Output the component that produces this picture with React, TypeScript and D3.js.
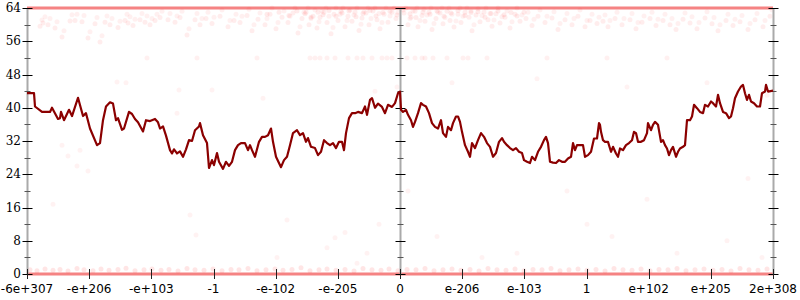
import React, { useEffect, useRef } from "react";
import * as d3 from "d3";

// x domain: bin index 0..746, y domain 0..64
const xTickLabels = ["-6e+307", "-e+206", "-e+103", "-1", "-e-102", "-e-205", "0", "e-206", "e-103", "1", "e+102", "e+205", "2e+308"];
const yTicks = [0, 8, 16, 24, 32, 40, 48, 56, 64];

const linePos = [0,7,8,15,23,25,31,33,34,37,42,45,51,56,59,63,70,73,76,79,83,86,89,91,95,97,102,105,108,111,116,119,123,128,131,133,136,139,143,145,147,150,153,156,159,162,165,168,172,173,176,180,182,185,187,190,192,196,199,202,205,208,211,214,218,221,223,225,228,232,235,238,241,244,246,249,254,257,260,263,266,270,273,276,279,281,284,288,291,294,297,300,303,306,309,312,315,317,319,322,325,328,331,335,338,340,343,345,348,351,355,358,361,365,368,371,373,
374,376,379,381,384,386,388,391,394,396,399,402,405,408,411,414,416,419,421,424,426,429,431,433,435,438,441,443,445,448,451,454,457,460,463,466,469,472,475,477,480,483,486,489,492,495,497,500,503,505,508,511,514,517,519,521,523,526,529,532,535,538,541,544,546,548,550,553,556,558,561,564,567,570,572,573,574,576,578,581,584,586,589,591,593,596,599,602,605,607,609,611,614,617,620,621,624,626,628,631,634,636,638,640,642,644,646,649,651,653,656,658,660,663,665,667,670,673,676,678,681,684,686,689,691,693,696,699,702,704,706,708,711,714,716,718,720,722,724,727,730,733,735,738,739,741,746];
const lineVal = [43.5,43.5,40.3,39,39,40,37.3,37.5,39,37,39.5,38,42.4,38,38.7,35,31,31.5,37,40.3,41.3,41,37,37.5,34.7,35,39,38.5,37.3,36.5,34.3,37,36.8,37.3,36.5,35,35.5,33.3,29.8,29,30,29,29.5,28.2,30,32.2,32,34.6,35.5,36.3,33.4,31.5,25.5,27.4,26.2,29.1,27,25.3,27,26,27,29.8,31,31.5,31.5,29.8,31,29.8,28.2,31.8,33,33,33.4,35,31.8,28.2,25.7,27.4,28.2,31,33.9,34.6,33.4,33.9,31.8,32.7,30.6,30.3,28.6,29.4,32.2,31.5,31,31.5,30.3,31.8,31.8,29.8,33.9,37.5,38.7,38.7,39,38.7,40.3,38.3,41.9,42.3,40,41,40.2,38.7,40.7,40.2,41.1,43.5,43.9,
39.5,39,39.5,38.3,37,35.4,36.6,38.7,41.1,40.7,40.3,38.7,36.3,35.4,35,37,33.9,33,35.4,34.6,36.3,37.9,37.9,36.6,34.2,31,29.4,28.2,31.5,30.3,32.2,33.9,33,31.5,30.6,28.2,29.1,31.8,32.7,31.8,31,30.3,29.8,30.3,29.4,29.1,27.4,27,26.7,28.2,27.4,29.4,30.6,32.2,33,31.5,27,26.8,26.7,27.4,27,27,27.8,28.2,31.5,29.8,31,31,31,28.2,28.6,29.4,32.6,32.6,36.3,35.9,34.2,32.2,31.8,31.8,29.4,30.6,29,28.2,30.2,29.8,31,31.5,32.2,34.2,33.9,31.8,31.8,32.2,33.9,36.3,34.6,35.9,36.6,35.9,31.8,32.2,31,30.2,28.6,29.8,30.6,28.2,29.4,30.2,30.6,31,37,37,37.9,40.7,39.9,39,38.7,40.7,40.3,41.5,41.1,40.3,43.1,41.1,39,38.7,37.5,37.9,39.9,42.3,43.9,45.1,45.5,43.5,41.9,43.1,41.5,41.1,40.3,40.3,43.5,43.9,45.5,43.9,44.1];

// scattered samples near the top
const topPos = [13,16,21,28,35,43,48,55,61,68,73,78,83,91,98,101,106,113,118,123,128,133,141,148,153,160,168,173,179,185,193,201,207,213,220,225,231,238,243,249,255,261,266,271,275,279,282,286,290,293,297,300,304,307,311,314,318,321,325,328,332,335,339,342,346,350,353,357,361,365,369,377,381,384,388,391,395,398,402,405,409,413,416,420,423,427,431,434,438,442,445,449,453,457,461,465,469,473,478,483,488,493,499,505,511,518,525,531,538,545,551,558,563,570,576,581,588,595,603,609,615,623,629,636,643,649,656,663,670,678,685,691,699,706,713,721,728,736,743];
const topVal = [59.6,60.4,60,59.2,57,60.9,61,60.7,56.8,60.2,55.8,60.6,60,59.3,61,60.4,59.8,61.2,60.6,60,61,61.7,61.2,60.6,61.7,57.5,61.2,60,61.5,60.3,62,59.5,61,60.5,62.2,58.5,61.3,60,62.5,59,61.8,60.5,62.8,58,61.5,63,60,62,59.2,61.8,63,60.5,57.8,62.5,61,63.2,59.5,62,60.8,63,58.6,61.6,62.8,60,63.3,61.2,59,62.5,60.6,63,61.5,62.8,60,61.8,63.2,59.5,62.2,60.8,63,58.8,61.5,62.8,60.2,63.2,61,59.4,62.5,60.5,63,61.8,58.5,62.3,60.7,63,61.2,59.6,62.6,60.4,61.8,59.2,62.5,60.8,61.5,59.8,62,60.5,61.6,58.8,61.2,60,62,59.5,61,60.3,60.8,59.5,61.5,60,61.2,59,60.6,61.5,59.8,61,60,58.8,61.3,60.4,59,61.6,60.2,58.5,61,59.8,60.7,58.8,61.2,59.5,62];

// extra haze close to the top in the centre
const hazePos = [240,252,262,270,278,284,291,296,302,309,315,322,329,336,343,349,356,363,370,376,383,389,396,403,410,417,424,431,438,444,451,458,464,471,477,484,490,497];
const hazeVal = [62.5,63,62.2,63.3,62.6,61.8,63,62.4,63.4,62,62.8,63.3,61.9,62.7,63.4,62.1,62.9,63.2,62.3,63.5,62.6,61.7,63,62.5,63.3,62,62.8,63.4,62.2,62.9,63.1,61.8,62.7,63.3,62.4,62.9,62.1,63];

// row of samples near 52
const midRowPos = [120,170,230,283,288,293,300,308,321,330,336,345,355,360,365,380,388,395,398,406,420,436,441,460,520,580,640];
const midRowVal = [52,52,52,52,52,52,52,52,52,52,52,52,52,52,52,52,52,52,52,52,52,52,52,52,52,52,52];

// sparse samples elsewhere
const sparsePos = [26,35,41,50,53,61,90,99,150,152,163,169,185,236,250,260,300,308,318,330,340,348,352,370,381,410,425,441,455,470,490,510,540,560,585,600,620,650,680,700,721,735,740];
const sparseVal = [16.8,31,28.4,26,29.8,24.8,46.2,46,38.7,44.3,14.2,9.4,44.3,42.3,4,13,6.3,8.7,10,2.6,5,44,12,45,20,9,46,31,4,28,5,47,20,12,9,45,18,5,46,8,23,4,43];

// faint samples just above zero
const lowPos = [3,10,18,26,33,41,50,57,66,74,82,91,99,108,117,125,134,142,151,160,168,177,186,195,204,212,221,230,239,248,256,265,274,283,292,300,309,318,327,336,345,354,362,371,380,389,398,407,416,425,434,443,452,461,470,479,488,497,506,515,524,533,542,551,560,569,578,587,596,605,614,623,632,641,650,659,668,677,686,695,704,713,722,731,740];
const lowVal = [1,0.8,1.2,0.9,1.1,0.7,1.3,1,0.8,1.2,0.9,1.1,1.4,0.8,1,1.2,0.9,1.1,0.7,1.3,1,0.9,1.2,0.8,1.1,1,1.3,0.8,1,1.2,0.9,1.1,1.5,0.8,1,1.2,0.9,1.1,0.7,1.3,1,0.9,1.2,0.8,1.1,1,1.3,0.8,1,1.2,0.9,1.1,0.7,1.3,1,0.9,1.2,0.8,1.1,1,1.3,0.8,1,1.2,0.9,1.1,0.7,1.3,1,0.9,1.2,0.8,1.1,1,1.3,0.8,1,1.2,0.9,1.1,0.7,1.3,1,0.9,1.2];

// dense bands at the extremes
const bandVals = [64, 0];
const domainMax = 746;

export default function App() {
  const ref = useRef<SVGSVGElement>(null);
  useEffect(() => {
    const svg = d3.select(ref.current);
    svg.selectAll("*").remove();
    const x = d3.scaleLinear().domain([0, domainMax]).range([27, 773]);
    const y = d3.scaleLinear().domain([0, 64]).range([274, 8]);
    const g = svg.append("g");

    const scatter = (ps: number[], vs: number[], op: number) => {
      g.append("g").selectAll("circle").data(ps).join("circle")
        .attr("cx", (d) => x(d))
        .attr("cy", (_d, i) => y(vs[i]))
        .attr("r", 2.5)
        .attr("fill", "red")
        .attr("fill-opacity", op);
    };
    scatter(topPos, topVal, 0.07);
    scatter(topPos.map((p) => p + 2), topVal.map((v) => Math.min(64, v + 1.5)), 0.06);
    scatter(hazePos, hazeVal, 0.08);
    scatter(midRowPos, midRowVal, 0.06);
    scatter(sparsePos, sparseVal, 0.05);
    scatter(lowPos, lowVal, 0.1);

    // dense bands
    bandVals.forEach((v) => {
      g.append("line")
        .attr("x1", x(0)).attr("x2", x(domainMax))
        .attr("y1", y(v)).attr("y2", y(v))
        .attr("stroke", "#ee3030").attr("stroke-opacity", 0.6).attr("stroke-width", 3);
    });

    // axes
    const axisXs = [0, domainMax / 2, domainMax];
    axisXs.forEach((ax) => {
      const px = Math.round(x(ax)) + 0.5;
      g.append("line").attr("x1", px).attr("x2", px).attr("y1", y(64)).attr("y2", y(0))
        .attr("stroke", "#aaa").attr("stroke-width", 2);
      d3.range(0, 65, 4).forEach((t) => {
        const major = t % 8 === 0;
        const len = major ? 5 : 3;
        const py = Math.round(y(t)) + 0.5;
        g.append("line").attr("x1", px - len).attr("x2", px + len).attr("y1", py).attr("y2", py)
          .attr("stroke", major ? "#000" : "#555").attr("stroke-width", 1);
      });
    });

    // y labels
    g.append("g").selectAll("text").data(yTicks).join("text")
      .attr("x", 21).attr("y", (d) => y(d))
      .attr("text-anchor", "end").attr("dominant-baseline", "central")
      .attr("font-family", "DejaVu Serif").attr("font-size", 12).attr("fill", "#000")
      .text((d) => String(d));

    // x ticks + labels
    const xt = xTickLabels.map((_l, i) => (i * domainMax) / 12);
    xt.forEach((t, i) => {
      const px = Math.round(x(t)) + 0.5;
      g.append("line").attr("x1", px).attr("x2", px).attr("y1", 269).attr("y2", 279)
        .attr("stroke", "#222").attr("stroke-width", 1);
      g.append("text").attr("x", x(t)).attr("y", 293)
        .attr("text-anchor", "middle")
        .attr("font-family", "DejaVu Sans").attr("font-size", 12).attr("fill", "#000")
        .text(xTickLabels[i]);
    });

    // line
    const line = d3.line<number>()
      .x((d) => x(d))
      .y((_d, i) => y(lineVal[i]));
    g.append("path").attr("d", line(linePos) || "")
      .attr("fill", "none").attr("stroke", "#8b0000").attr("stroke-width", 2.2)
      .attr("stroke-linejoin", "round");
  }, []);
  return (
    <svg ref={ref} width={800} height={300}
      style={{ position: "absolute", left: 0, top: 0, background: "#fff" }} />
  );
}
